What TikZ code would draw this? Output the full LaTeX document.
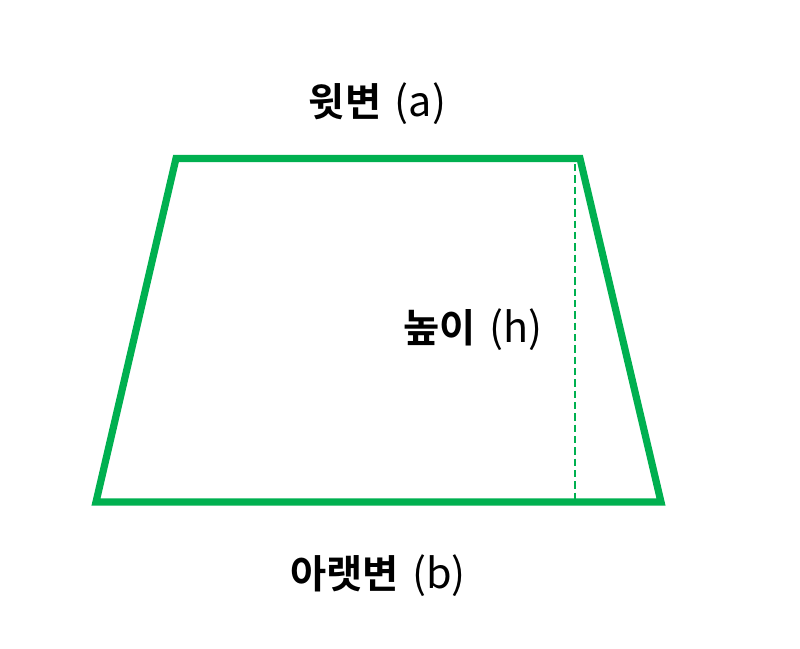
\documentclass[tikz,border=0pt]{standalone}
\usepackage{fontspec}
\newfontfamily\kr{Noto Sans CJK KR Bold}
\newfontfamily\krl{Noto Sans CJK KR}
\definecolor{tgreen}{HTML}{00B050}
\newcommand{\latpart}[1]{\hspace{0.12em}{\krl\fontsize{31}{34}\selectfont #1}}
\begin{document}
\begin{tikzpicture}[x=0.75pt,y=-0.75pt,
  edge/.style={draw=tgreen,line width=5.4pt,line join=miter},
  hline/.style={draw=tgreen,line width=1.3pt,dash pattern=on 5.5pt off 3pt},
  lbl/.style={font=\kr\fontsize{29.5}{34}\selectfont,inner sep=0pt}]
\useasboundingbox (0,0) rectangle (800,649);
\coordinate (tl) at (176,158.5);
\coordinate (tr) at (580,158.5);
\coordinate (br) at (661,502);
\coordinate (bl) at (96,502);
\draw[edge] (tl) -- (tr) -- (br) -- (bl) -- cycle;
\coordinate (ht) at (575,164);
\coordinate (hb) at (575,499);
\draw[hline] (ht) -- (hb);
\node[lbl] (a) at (377.5,104) {윗변 \latpart{(a)}};
\node[lbl] (h) at (473,330) {높이 \latpart{(h)}};
\node[lbl] (b) at (378,576) {아랫변 \latpart{(b)}};
\end{tikzpicture}
\end{document}
